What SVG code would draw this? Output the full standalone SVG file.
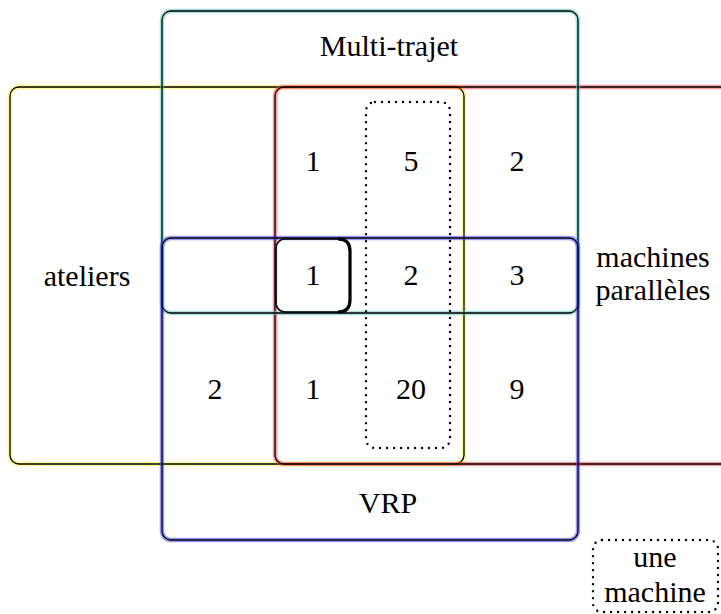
<svg xmlns="http://www.w3.org/2000/svg" width="721" height="614" viewBox="0 0 721 614">
<style>
text{font-family:"Liberation Serif","DejaVu Serif",serif;font-size:30px;fill:#000;text-anchor:middle}
.line{fill:none;stroke:#000;stroke-width:1.3}
.halo{fill:none;stroke-width:4.5;stroke-opacity:0.55}
.dot{fill:none;stroke:#000;stroke-width:2.4;stroke-linecap:round;stroke-dasharray:0 7}
</style>
<rect width="721" height="614" fill="#fff"/>
<g id="ateliers">
<rect class="halo" x="10" y="87" width="454" height="377" rx="9" stroke="#ffee44"/>
<rect class="line" x="10" y="87" width="454" height="377" rx="9"/>
<text x="87" y="286">ateliers</text>
</g>
<g id="machines-paralleles">
<rect class="halo" x="275" y="87" width="470" height="377" rx="9" stroke="#ff4444"/>
<rect class="line" x="275" y="87" width="470" height="377" rx="9"/>
<text x="653" y="267">machines</text>
<text x="653" y="300">parallèles</text>
</g>
<g id="multi-trajet">
<rect class="halo" x="162" y="11" width="416" height="302" rx="9" stroke="#5cc8c0"/>
<rect class="line" x="162" y="11" width="416" height="302" rx="9"/>
<text x="389" y="56">Multi-trajet</text>
</g>
<g id="vrp">
<rect class="halo" x="162" y="238" width="416" height="302" rx="9" stroke="#4444ff"/>
<rect class="line" x="162" y="238" width="416" height="302" rx="9"/>
<text x="388" y="513">VRP</text>
</g>
<g id="une-machine">
<rect class="dot" x="366" y="102" width="84" height="346" rx="9"/>
</g>
<g id="intersection">
<rect x="276" y="239" width="74" height="73" rx="9" fill="none" stroke="#000" stroke-width="1.6"/>
<path d="M338,239 Q350,239 350,251 L350,300 Q350,312 338,312" fill="none" stroke="#000" stroke-width="3.2"/>
</g>
<g id="counts">
<text x="313" y="171">1</text>
<text x="411" y="171">5</text>
<text x="517" y="171">2</text>
<text x="313" y="285">1</text>
<text x="411" y="285">2</text>
<text x="517" y="285">3</text>
<text x="215" y="399">2</text>
<text x="313" y="399">1</text>
<text x="411" y="399">20</text>
<text x="517" y="399">9</text>
</g>
<g id="legend">
<rect class="dot" x="593" y="540" width="125" height="72" rx="9"/>
<text x="655" y="567">une</text>
<text x="655" y="602">machine</text>
</g>
<g id="connectors"/>
</svg>
